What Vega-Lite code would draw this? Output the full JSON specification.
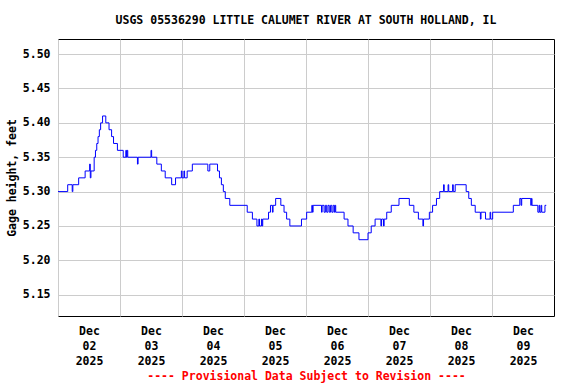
{
  "$schema": "https://vega.github.io/schema/vega-lite/v6.json",
  "width": 496,
  "height": 277,
  "autosize": "none",
  "padding": {"left": 58, "top": 39, "right": 22, "bottom": 68},
  "background": "white",
  "config": {
    "view": {"stroke": "black", "strokeWidth": 1},
    "font": "DejaVu Sans Mono"
  },
  "title": {
    "text": "USGS 05536290 LITTLE CALUMET RIVER AT SOUTH HOLLAND, IL",
    "font": "DejaVu Sans Mono",
    "fontSize": 11.5,
    "fontWeight": "bold",
    "color": "black",
    "anchor": "middle",
    "offset": 13
  },
  "data": {
    "values": [
      {"t": "2025-12-02T00:00", "v": 5.30},
      {"t": "2025-12-02T03:45", "v": 5.31},
      {"t": "2025-12-02T05:30", "v": 5.30},
      {"t": "2025-12-02T05:45", "v": 5.31},
      {"t": "2025-12-02T08:00", "v": 5.32},
      {"t": "2025-12-02T10:30", "v": 5.33},
      {"t": "2025-12-02T12:15", "v": 5.34},
      {"t": "2025-12-02T12:30", "v": 5.32},
      {"t": "2025-12-02T12:45", "v": 5.33},
      {"t": "2025-12-02T14:00", "v": 5.35},
      {"t": "2025-12-02T14:30", "v": 5.36},
      {"t": "2025-12-02T15:00", "v": 5.37},
      {"t": "2025-12-02T15:30", "v": 5.38},
      {"t": "2025-12-02T16:00", "v": 5.39},
      {"t": "2025-12-02T16:30", "v": 5.40},
      {"t": "2025-12-02T17:15", "v": 5.41},
      {"t": "2025-12-02T18:30", "v": 5.40},
      {"t": "2025-12-02T19:45", "v": 5.39},
      {"t": "2025-12-02T20:45", "v": 5.38},
      {"t": "2025-12-02T21:30", "v": 5.37},
      {"t": "2025-12-02T23:00", "v": 5.36},
      {"t": "2025-12-03T01:15", "v": 5.35},
      {"t": "2025-12-03T02:15", "v": 5.36},
      {"t": "2025-12-03T02:30", "v": 5.35},
      {"t": "2025-12-03T02:45", "v": 5.36},
      {"t": "2025-12-03T03:00", "v": 5.35},
      {"t": "2025-12-03T06:45", "v": 5.34},
      {"t": "2025-12-03T07:00", "v": 5.35},
      {"t": "2025-12-03T12:00", "v": 5.36},
      {"t": "2025-12-03T12:15", "v": 5.35},
      {"t": "2025-12-03T14:15", "v": 5.34},
      {"t": "2025-12-03T16:00", "v": 5.33},
      {"t": "2025-12-03T17:30", "v": 5.32},
      {"t": "2025-12-03T20:00", "v": 5.31},
      {"t": "2025-12-03T21:30", "v": 5.32},
      {"t": "2025-12-03T23:45", "v": 5.33},
      {"t": "2025-12-04T00:00", "v": 5.32},
      {"t": "2025-12-04T00:45", "v": 5.33},
      {"t": "2025-12-04T01:00", "v": 5.32},
      {"t": "2025-12-04T02:00", "v": 5.33},
      {"t": "2025-12-04T04:00", "v": 5.34},
      {"t": "2025-12-04T10:00", "v": 5.33},
      {"t": "2025-12-04T10:45", "v": 5.34},
      {"t": "2025-12-04T13:45", "v": 5.33},
      {"t": "2025-12-04T14:30", "v": 5.32},
      {"t": "2025-12-04T15:15", "v": 5.31},
      {"t": "2025-12-04T16:00", "v": 5.30},
      {"t": "2025-12-04T16:45", "v": 5.29},
      {"t": "2025-12-04T18:30", "v": 5.28},
      {"t": "2025-12-05T01:15", "v": 5.27},
      {"t": "2025-12-05T03:15", "v": 5.26},
      {"t": "2025-12-05T05:00", "v": 5.25},
      {"t": "2025-12-05T05:45", "v": 5.26},
      {"t": "2025-12-05T06:00", "v": 5.25},
      {"t": "2025-12-05T06:45", "v": 5.26},
      {"t": "2025-12-05T07:00", "v": 5.25},
      {"t": "2025-12-05T07:15", "v": 5.26},
      {"t": "2025-12-05T09:30", "v": 5.27},
      {"t": "2025-12-05T10:15", "v": 5.28},
      {"t": "2025-12-05T11:00", "v": 5.27},
      {"t": "2025-12-05T11:15", "v": 5.28},
      {"t": "2025-12-05T12:15", "v": 5.29},
      {"t": "2025-12-05T14:15", "v": 5.28},
      {"t": "2025-12-05T15:30", "v": 5.27},
      {"t": "2025-12-05T16:30", "v": 5.26},
      {"t": "2025-12-05T17:45", "v": 5.25},
      {"t": "2025-12-05T22:15", "v": 5.26},
      {"t": "2025-12-06T00:15", "v": 5.27},
      {"t": "2025-12-06T02:15", "v": 5.28},
      {"t": "2025-12-06T02:30", "v": 5.27},
      {"t": "2025-12-06T02:45", "v": 5.28},
      {"t": "2025-12-06T06:00", "v": 5.27},
      {"t": "2025-12-06T06:15", "v": 5.28},
      {"t": "2025-12-06T07:00", "v": 5.27},
      {"t": "2025-12-06T07:30", "v": 5.28},
      {"t": "2025-12-06T08:00", "v": 5.27},
      {"t": "2025-12-06T08:30", "v": 5.28},
      {"t": "2025-12-06T09:00", "v": 5.27},
      {"t": "2025-12-06T09:30", "v": 5.28},
      {"t": "2025-12-06T10:00", "v": 5.27},
      {"t": "2025-12-06T10:30", "v": 5.28},
      {"t": "2025-12-06T11:00", "v": 5.27},
      {"t": "2025-12-06T11:15", "v": 5.28},
      {"t": "2025-12-06T11:30", "v": 5.27},
      {"t": "2025-12-06T14:45", "v": 5.26},
      {"t": "2025-12-06T16:15", "v": 5.25},
      {"t": "2025-12-06T18:15", "v": 5.24},
      {"t": "2025-12-06T20:30", "v": 5.23},
      {"t": "2025-12-07T00:00", "v": 5.24},
      {"t": "2025-12-07T01:15", "v": 5.25},
      {"t": "2025-12-07T02:45", "v": 5.26},
      {"t": "2025-12-07T05:00", "v": 5.25},
      {"t": "2025-12-07T05:15", "v": 5.26},
      {"t": "2025-12-07T06:00", "v": 5.25},
      {"t": "2025-12-07T06:15", "v": 5.26},
      {"t": "2025-12-07T07:15", "v": 5.27},
      {"t": "2025-12-07T09:00", "v": 5.28},
      {"t": "2025-12-07T12:00", "v": 5.29},
      {"t": "2025-12-07T16:00", "v": 5.28},
      {"t": "2025-12-07T17:45", "v": 5.27},
      {"t": "2025-12-07T19:30", "v": 5.26},
      {"t": "2025-12-07T21:15", "v": 5.25},
      {"t": "2025-12-07T21:30", "v": 5.26},
      {"t": "2025-12-07T23:45", "v": 5.27},
      {"t": "2025-12-08T01:00", "v": 5.28},
      {"t": "2025-12-08T02:30", "v": 5.29},
      {"t": "2025-12-08T03:45", "v": 5.30},
      {"t": "2025-12-08T05:15", "v": 5.31},
      {"t": "2025-12-08T05:30", "v": 5.30},
      {"t": "2025-12-08T07:00", "v": 5.31},
      {"t": "2025-12-08T07:15", "v": 5.30},
      {"t": "2025-12-08T08:45", "v": 5.31},
      {"t": "2025-12-08T09:00", "v": 5.30},
      {"t": "2025-12-08T09:45", "v": 5.31},
      {"t": "2025-12-08T14:00", "v": 5.30},
      {"t": "2025-12-08T15:00", "v": 5.29},
      {"t": "2025-12-08T16:00", "v": 5.28},
      {"t": "2025-12-08T17:30", "v": 5.27},
      {"t": "2025-12-08T19:30", "v": 5.26},
      {"t": "2025-12-08T19:45", "v": 5.27},
      {"t": "2025-12-08T21:30", "v": 5.26},
      {"t": "2025-12-08T23:15", "v": 5.27},
      {"t": "2025-12-08T23:30", "v": 5.26},
      {"t": "2025-12-09T00:15", "v": 5.27},
      {"t": "2025-12-09T08:15", "v": 5.28},
      {"t": "2025-12-09T10:45", "v": 5.29},
      {"t": "2025-12-09T11:15", "v": 5.28},
      {"t": "2025-12-09T11:30", "v": 5.29},
      {"t": "2025-12-09T15:00", "v": 5.28},
      {"t": "2025-12-09T15:15", "v": 5.29},
      {"t": "2025-12-09T15:30", "v": 5.28},
      {"t": "2025-12-09T17:45", "v": 5.27},
      {"t": "2025-12-09T18:15", "v": 5.28},
      {"t": "2025-12-09T18:30", "v": 5.27},
      {"t": "2025-12-09T19:00", "v": 5.28},
      {"t": "2025-12-09T19:15", "v": 5.27},
      {"t": "2025-12-09T20:30", "v": 5.28},
      {"t": "2025-12-09T21:00", "v": 5.28}
    ]
  },
  "mark": {"type": "line", "interpolate": "step-after", "color": "#0000ff", "strokeWidth": 1},
  "encoding": {
    "x": {
      "field": "t",
      "type": "temporal",
      "scale": {"domain": [{"year": 2025, "month": 12, "date": 2}, {"year": 2025, "month": 12, "date": 10}]},
      "axis": {
        "values": [
          {"year": 2025, "month": 12, "date": 2},
          {"year": 2025, "month": 12, "date": 3},
          {"year": 2025, "month": 12, "date": 4},
          {"year": 2025, "month": 12, "date": 5},
          {"year": 2025, "month": 12, "date": 6},
          {"year": 2025, "month": 12, "date": 7},
          {"year": 2025, "month": 12, "date": 8},
          {"year": 2025, "month": 12, "date": 9}
        ],
        "labelExpr": "[timeFormat(datum.value, '%b'), timeFormat(datum.value, '%d'), timeFormat(datum.value, '%Y')]",
        "labelOffset": 31,
        "labelFlush": false,
        "labelOverlap": false,
        "labelBound": false,
        "ticks": false,
        "domain": false,
        "grid": true,
        "gridColor": "#cccccc",
        "gridWidth": 1,
        "labelFont": "DejaVu Sans Mono",
        "labelFontSize": 11.5,
        "labelFontWeight": "bold",
        "labelColor": "black",
        "labelLineHeight": 15,
        "labelPadding": 9,
        "labelAngle": 0,
        "labelAlign": "center",
        "labelBaseline": "top",
        "title": "---- Provisional Data Subject to Revision ----",
        "titleColor": "#ff0000",
        "titleFont": "DejaVu Sans Mono",
        "titleFontSize": 11.5,
        "titleFontWeight": "bold",
        "titlePadding": 4
      }
    },
    "y": {
      "field": "v",
      "type": "quantitative",
      "scale": {"domain": [5.119, 5.522], "zero": false, "nice": false},
      "axis": {
        "values": [5.15, 5.20, 5.25, 5.30, 5.35, 5.40, 5.45, 5.50],
        "format": ".2f",
        "ticks": false,
        "domain": false,
        "grid": true,
        "gridColor": "#cccccc",
        "gridWidth": 1,
        "labelFont": "DejaVu Sans Mono",
        "labelFontSize": 11.5,
        "labelFontWeight": "bold",
        "labelColor": "black",
        "labelPadding": 8,
        "title": "Gage height, feet",
        "titleColor": "black",
        "titleFont": "DejaVu Sans Mono",
        "titleFontSize": 11.5,
        "titleFontWeight": "bold",
        "titlePadding": 5
      }
    }
  }
}
